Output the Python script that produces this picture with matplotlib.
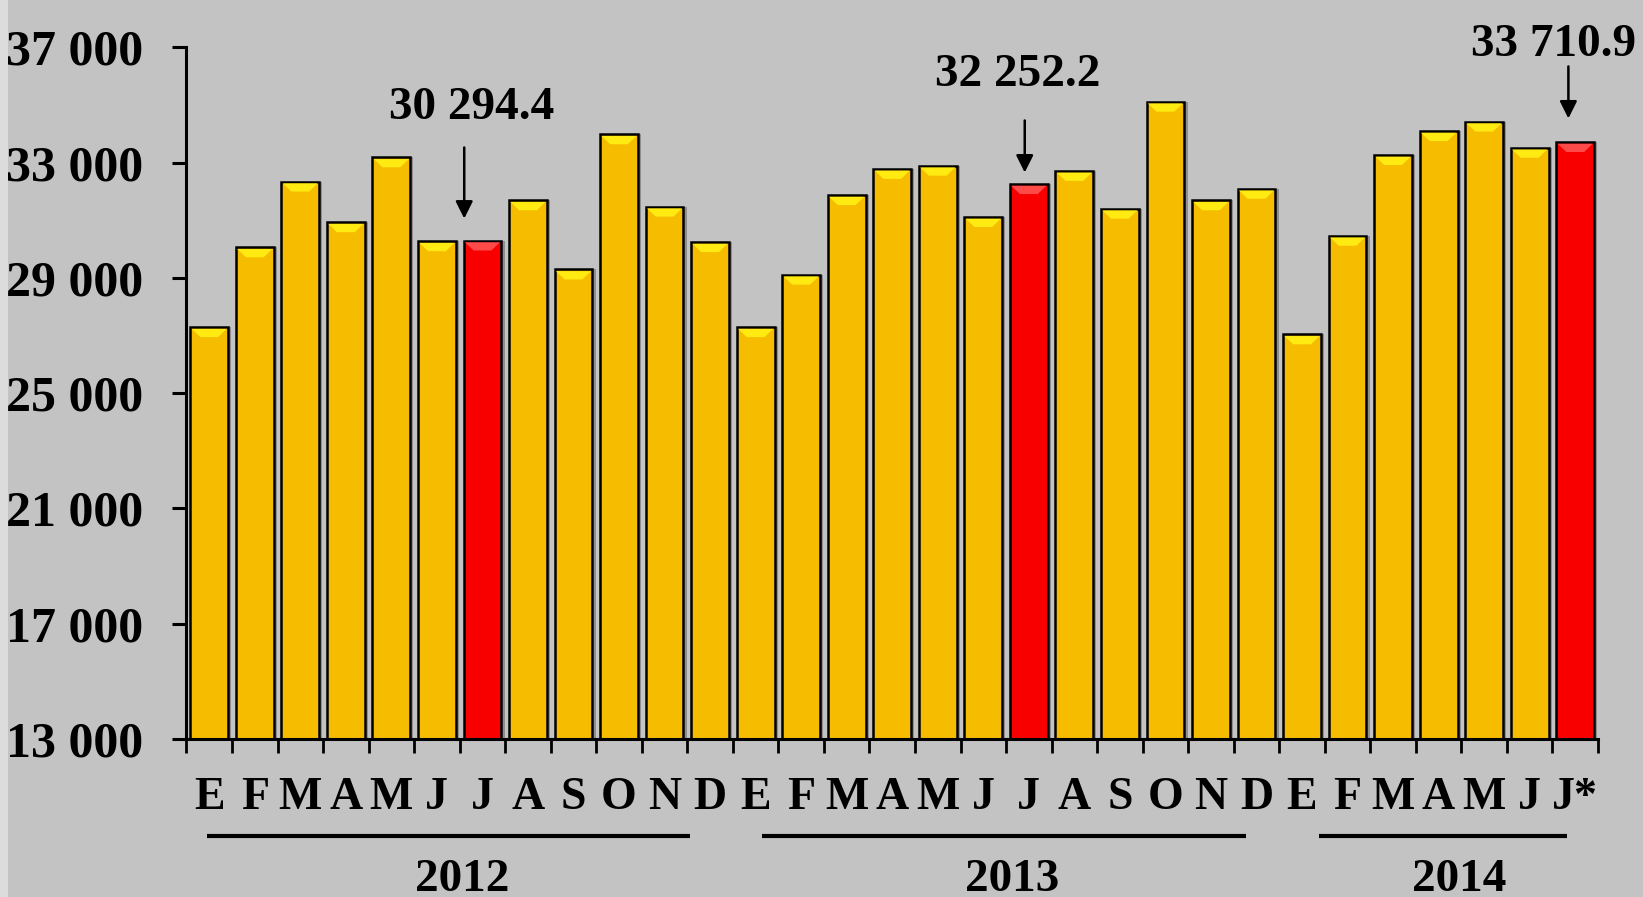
import matplotlib
matplotlib.use("Agg")
import matplotlib.pyplot as plt
import matplotlib.transforms as mtransforms
from matplotlib.patches import Polygon, Rectangle

# ---- data ----
months = ["E", "F", "M", "A", "M", "J", "J", "A", "S", "O", "N", "D",
          "E", "F", "M", "A", "M", "J", "J", "A", "S", "O", "N", "D",
          "E", "F", "M", "A", "M", "J", "J*"]
values = [27290, 30060, 32340, 30930, 33180, 30270, 30294.4, 31690, 29290, 33980, 31470, 30240,
          27290, 29110, 31870, 32780, 32890, 31110, 32252.2, 32710, 31400, 35110, 31690, 32090,
          27040, 30460, 33260, 34090, 34420, 33510, 33710.9]
highlight = [6, 18, 30]
highlight_labels = ["30 294.4", "32 252.2", "33 710.9"]
years = ["2012", "2013", "2014"]
yticks = [13000, 17000, 21000, 25000, 29000, 33000, 37000]

# ---- style / layout ----
BG = "#C3C3C3"
GOLD = "#F6BC00"
GOLD_HI = "#FFEA12"
RED = "#F80000"
RED_HI = "#FF4A4A"
FONT = "Liberation Serif"
W = 0.83

fig = plt.figure(figsize=(16.43, 8.97), dpi=100, facecolor=BG)
fig.patches.append(Rectangle((0, 0), 8 / 1643, 1, transform=fig.transFigure,
                             facecolor="#DCDCDC", edgecolor="none", zorder=0))
ax = fig.add_axes([0.1135, 0.176, 0.8591, 0.7714])
ax.set_facecolor(BG)

n = len(values)
xs = list(range(n))
colors = [RED if i in highlight else GOLD for i in xs]
hi_colors = [RED_HI if i in highlight else GOLD_HI for i in xs]

ax.set_xlim(-0.5, n - 0.5)
ax.set_ylim(13000, 37000)

# shadows
ax.bar([x + 0.07 for x in xs], [v - 13000 for v in values], bottom=13000, width=W,
       color="#8E8E8E", edgecolor="none", zorder=1)
# bars
ax.bar(xs, [v - 13000 for v in values], bottom=13000, width=W, color=colors,
       edgecolor="black", linewidth=1.8, zorder=2)

# top bevel highlight
px_per_unit_y = 692 / 24000.0
h = 10 / px_per_unit_y
d = 10 / 45.5
for x, v, c in zip(xs, values, hi_colors):
    poly = Polygon([(x - W / 2 + 0.03, v - 60), (x + W / 2 - 0.03, v - 60),
                    (x + W / 2 - d, v - h), (x - W / 2 + d, v - h)],
                   closed=True, facecolor=c, edgecolor="none", zorder=3)
    ax.add_patch(poly)

# axes styling
for s in ["top", "right"]:
    ax.spines[s].set_visible(False)
ax.spines["left"].set_linewidth(2.2)
ax.spines["bottom"].set_linewidth(2.2)
ax.spines["left"].set_zorder(5)
ax.spines["bottom"].set_zorder(5)

ax.set_yticks(yticks)
ax.set_yticklabels([f"{t:,}".replace(",", " ") for t in yticks],
                   fontfamily=FONT, fontweight="bold", fontsize=36)
ax.tick_params(axis="y", length=10, width=2.2, pad=21, direction="out")

ax.set_xticks(xs)
ax.set_xticklabels(months, fontfamily=FONT, fontweight="bold", fontsize=33)
ax.tick_params(axis="x", which="major", length=0, pad=27)
ax.set_xticks([x - 0.5 for x in range(n + 1)], minor=True)
ax.tick_params(axis="x", which="minor", length=10, width=2, direction="out")

# year group lines and labels
trans = mtransforms.blended_transform_factory(ax.transData, ax.transAxes)
year_lines = [(-0.06, 10.55), (12.14, 22.76), (24.37, 29.83)]
label_x = [5.55, 17.64, 27.46]
for yr, (a, b), lx in zip(years, year_lines, label_x):
    ax.plot([a, b], [-0.140, -0.140], transform=trans, color="black",
            lw=3, clip_on=False, solid_capstyle="butt")
    ax.text(lx, -0.220, yr, transform=trans, ha="center", va="baseline",
            fontfamily=FONT, fontweight="bold", fontsize=34, clip_on=False)

# annotations for highlighted bars
arrow_dx = [-0.40, -0.09, -0.15]
arrow_start = [33520, 34457, 36332]
arrow_end = [31056, 32653, 34528]
text_x = [5.77, 17.75, 29.53]
text_y = [34907, 36019, 37076]
for i, lab, dx, y0, y1, tx, ty in zip(highlight, highlight_labels, arrow_dx,
                                      arrow_start, arrow_end, text_x, text_y):
    ax.annotate("", xy=(i + dx, y1), xytext=(i + dx, y0),
                arrowprops=dict(arrowstyle="-|>", color="black", lw=1.8,
                                mutation_scale=26, shrinkA=0, shrinkB=0),
                annotation_clip=False, zorder=6)
    ax.text(tx, ty, lab, ha="center", va="center", fontfamily=FONT,
            fontweight="bold", fontsize=34, clip_on=False, zorder=6)

fig.savefig("out.png", dpi=100, facecolor=BG)
